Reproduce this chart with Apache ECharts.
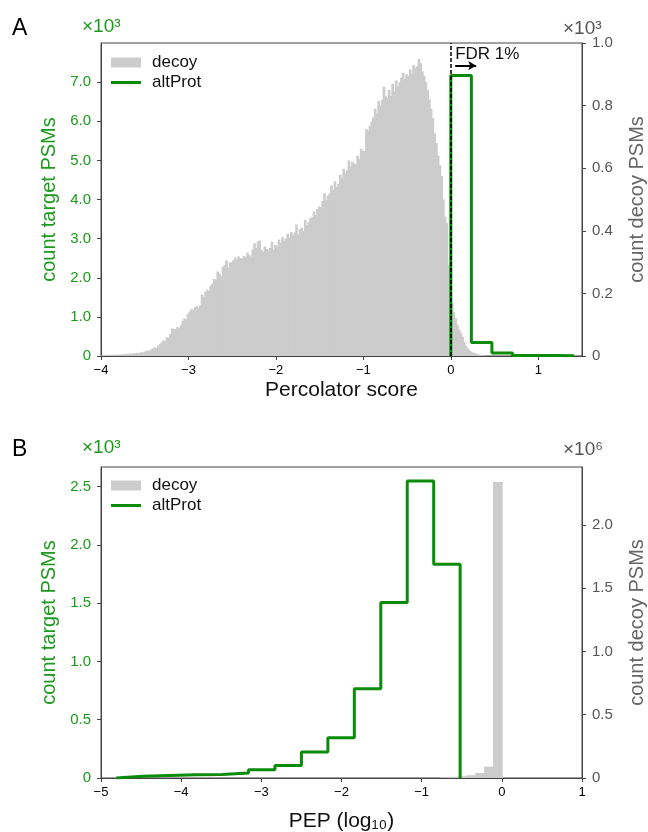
<!DOCTYPE html>
<html>
<head>
<meta charset="utf-8">
<script src="https://cdn.jsdelivr.net/npm/echarts@6/dist/echarts.min.js"></script>
<style>
  html, body { margin: 0; padding: 0; background: #fff; }
  #main { width: 648px; height: 832px; }
</style>
</head>
<body>
<div id="main"></div>
<script>
// Panel A: Percolator score histograms
const decoyAStart = -4.0;
const decoyABin = 0.02;
const decoyA = [
  2, 3, 2, 3, 4,   3, 4, 3, 5, 4,   5, 4, 6, 5, 7,   6, 8, 7, 9, 8,
  10, 9, 12, 11, 14,   15, 18, 17, 21, 24,   27, 25, 33, 38, 44,   50, 47, 60, 58, 70,
  88, 84, 86, 92, 90,   98, 112, 120, 118, 135,   142, 150, 146, 155, 160,   154, 162, 196, 188, 205,
  212, 208, 225, 232, 246,   244, 270, 262, 255, 285,   290, 305, 282, 298, 300,   306, 315, 310, 318, 312,
  312, 320, 316, 330, 322,   318, 340, 360, 345, 366,   369, 338, 332, 350, 342,   338, 345, 365, 340, 355,
  350, 372, 362, 380, 368,   375, 390, 378, 396, 385,   394, 420, 388, 405, 410,   400, 435, 418, 428, 440,
  444, 462, 450, 470, 478,   475, 495, 520, 498, 512,   519, 545, 530, 558, 540,   550, 580, 566, 598, 585,
  594, 625, 605, 620, 615,   612, 640, 630, 662, 655,   656, 725, 718, 735, 748,   762, 790, 775, 815, 800,
  819, 860, 830, 825, 850,   831, 870, 845, 880, 860,   875, 890, 905, 885, 900,   894, 915, 900, 930, 920,
  925, 950, 935, 910, 895,   875, 850, 820, 790, 760,   712, 680, 640, 610, 575,   500, 445, 425, 290, 200,
  170, 140, 120, 100, 85,   75, 62, 45, 32, 24,   18, 14, 11, 9, 7,   5, 4, 3, 2, 1
];
const altProtAStart = 0.0;
const altProtABin = 0.235;
const altProtA = [7170, 343, 75, 15, 10, 5];

const xTicksA = [-4, -3, -2, -1, 0, 1];
const yLeftTicksA = [0, 1000, 2000, 3000, 4000, 5000, 6000, 7000];
const yRightTicksA = [0, 200, 400, 600, 800, 1000];

// Panel B: PEP (log10) histograms
const decoyBStart = -0.77;
const decoyBBin = 0.11;
const decoyB = [5000, 10000, 14000, 22000, 40000, 90000, 2340000];
const altProtBStart = -4.81;
const altProtBBin = 0.33;
const altProtB = [14, 22, 28, 30, 43, 71, 108, 223, 345, 765, 1505, 2548, 1834];

const xTicksB = [-5, -4, -3, -2, -1, 0, 1];
const yLeftTicksB = [0, 500, 1000, 1500, 2000, 2500];
const yRightTicksB = [0, 500000, 1000000, 1500000, 2000000];

const GREEN = '#0a8c0a';
const GREEN_TXT = '#1c9a1c';
const GRAY_BAR = '#cccccc';
const FONT = 'Liberation Sans, Arial, sans-serif';

// histogram bins -> [x0, x1, count]
function bins(start, width, counts) {
  return counts.map((c, i) => [start + i * width, start + (i + 1) * width, c]);
}
// step outline like matplotlib histtype='step'
function stepLine(start, width, counts) {
  const pts = [[start, 0]];
  counts.forEach((c, i) => {
    pts.push([start + i * width, c]);
    pts.push([start + (i + 1) * width, c]);
  });
  pts.push([start + counts.length * width, 0]);
  return pts;
}

function renderBin(params, api) {
  const p0 = api.coord([api.value(0), 0]);
  const p1 = api.coord([api.value(1), api.value(2)]);
  return {
    type: 'rect',
    shape: { x: p0[0], y: p1[1], width: p1[0] - p0[0] + 0.9, height: p0[1] - p1[1] },
    style: { fill: GRAY_BAR }
  };
}

const minus = (v) => (v < 0 ? '\u2212' + Math.abs(v) : String(v));
const k1 = (v) => (v === 0 ? '0' : (v / 1000).toFixed(1));
const m1 = (v) => (v === 0 ? '0' : (v / 1e6).toFixed(1));

function xAxis(gridIndex, min, max, ticks, name, nameGap) {
  return {
    type: 'value', gridIndex, min, max,
    name, nameLocation: 'middle', nameGap,
    nameTextStyle: { fontFamily: FONT, fontSize: 21, color: '#111' },
    axisLine: { show: true, onZero: false, lineStyle: { color: '#444', width: 1 } },
    axisTick: { show: true, length: 4, lineStyle: { color: '#444' }, customValues: ticks },
    axisLabel: { fontFamily: FONT, fontSize: 13, color: '#000', margin: 8, formatter: minus, customValues: ticks },
    splitLine: { show: false }
  };
}
function yAxis(gridIndex, position, max, ticks, fmt, name, color, nameColor, nameGap) {
  return {
    type: 'value', gridIndex, position, min: 0, max,
    name, nameLocation: 'middle', nameGap, nameRotate: 90,
    nameTextStyle: { fontFamily: FONT, fontSize: 20, color: nameColor },
    axisLine: { show: true, onZero: false, lineStyle: { color: '#444', width: 1 } },
    axisTick: { show: true, length: 4, lineStyle: { color: '#444' }, customValues: ticks },
    axisLabel: { fontFamily: FONT, fontSize: 15, color, margin: 10, formatter: fmt, customValues: ticks },
    splitLine: { show: false }
  };
}
function legendItem(top, name, h, color) {
  return {
    orient: 'vertical', left: 111, top, padding: 0, itemWidth: 30, itemHeight: h,
    selectedMode: false,
    textStyle: { fontFamily: FONT, fontSize: 17, color: '#111', padding: [0, 0, 0, 6] },
    data: [{ name, icon: 'rect', itemStyle: { color } }]
  };
}

const chart = echarts.init(document.getElementById('main'), null, { renderer: 'canvas' });

const option = {
  animation: false,
  backgroundColor: '#fff',
  grid: [
    { left: 101, top: 43, width: 481, height: 313, show: true, borderColor: '#444', borderWidth: 1, outerBoundsMode: 'none' },
    { left: 101, top: 467, width: 481, height: 311, show: true, borderColor: '#444', borderWidth: 1, outerBoundsMode: 'none' }
  ],
  legend: [
    legendItem(54, 'decoy', 10, GRAY_BAR),
    legendItem(74, 'altProt', 3, GREEN),
    legendItem(477, 'decoy', 10, GRAY_BAR),
    legendItem(497, 'altProt', 3, GREEN)
  ],
  xAxis: [
    xAxis(0, -4, 1.5, xTicksA, 'Percolator score', 24),
    xAxis(1, -5, 1, xTicksB, 'PEP (log\u2081\u2080)', 33)
  ],
  yAxis: [
    yAxis(0, 'left', 8000, yLeftTicksA, k1, 'count target PSMs', GREEN_TXT, GREEN_TXT, 42),
    yAxis(0, 'right', 1000, yRightTicksA, k1, 'count decoy PSMs', '#555', '#666', 45),
    yAxis(1, 'left', 2667, yLeftTicksB, k1, 'count target PSMs', GREEN_TXT, GREEN_TXT, 42),
    yAxis(1, 'right', 2458000, yRightTicksB, m1, 'count decoy PSMs', '#555', '#666', 45)
  ],
  series: [
    {
      name: 'decoy', type: 'custom', xAxisIndex: 0, yAxisIndex: 1,
      itemStyle: { color: GRAY_BAR }, renderItem: renderBin,
      encode: { x: [0, 1], y: 2 }, data: bins(decoyAStart, decoyABin, decoyA), z: 1
    },
    {
      name: 'altProt', type: 'line', xAxisIndex: 0, yAxisIndex: 0,
      symbol: 'none', lineStyle: { color: GREEN, width: 3 }, itemStyle: { color: GREEN },
      data: stepLine(altProtAStart, altProtABin, altProtA), z: 3,
      markLine: {
        silent: true, symbol: ['none', 'none'], label: { show: false },
        data: [
          { xAxis: 0, lineStyle: { color: '#000', type: [4, 2], width: 1.5 } },
          [
            { coord: [0.05, 7420], symbol: 'none', lineStyle: { color: '#000', type: 'solid', width: 2 } },
            { coord: [0.29, 7420], symbol: 'arrow', symbolSize: [7, 8] }
          ]
        ]
      }
    },
    {
      name: 'decoy', type: 'custom', xAxisIndex: 1, yAxisIndex: 3,
      itemStyle: { color: GRAY_BAR }, renderItem: renderBin,
      encode: { x: [0, 1], y: 2 }, data: bins(decoyBStart, decoyBBin, decoyB), z: 1
    },
    {
      name: 'altProt', type: 'line', xAxisIndex: 1, yAxisIndex: 2,
      symbol: 'none', lineStyle: { color: GREEN, width: 3 }, itemStyle: { color: GREEN },
      data: stepLine(altProtBStart, altProtBBin, altProtB), z: 3
    }
  ]
};

chart.setOption(option);

// text annotations placed from data coordinates
const fdr = chart.convertToPixel({ xAxisIndex: 0, yAxisIndex: 0 }, [0.05, 7720]);
const txt = (left, top, text, color, size) => ({
  type: 'text', left, top,
  style: { text, fill: color, fontFamily: FONT, fontSize: size }
});

chart.setOption({
  graphic: [
    txt(12, 17, 'A', '#000', 23),
    txt(12, 438, 'B', '#000', 23),
    txt(82, 17, '\u00d710\u00b3', GREEN_TXT, 19),
    txt(563, 19, '\u00d710\u00b3', '#555', 19),
    txt(82, 438, '\u00d710\u00b3', GREEN_TXT, 19),
    txt(563, 440, '\u00d710\u2076', '#555', 19),
    {
      type: 'text', x: fdr[0], y: fdr[1],
      style: { text: 'FDR 1%', fill: '#111', fontFamily: FONT, fontSize: 17, verticalAlign: 'middle' }
    }
  ]
});
</script>
</body>
</html>
